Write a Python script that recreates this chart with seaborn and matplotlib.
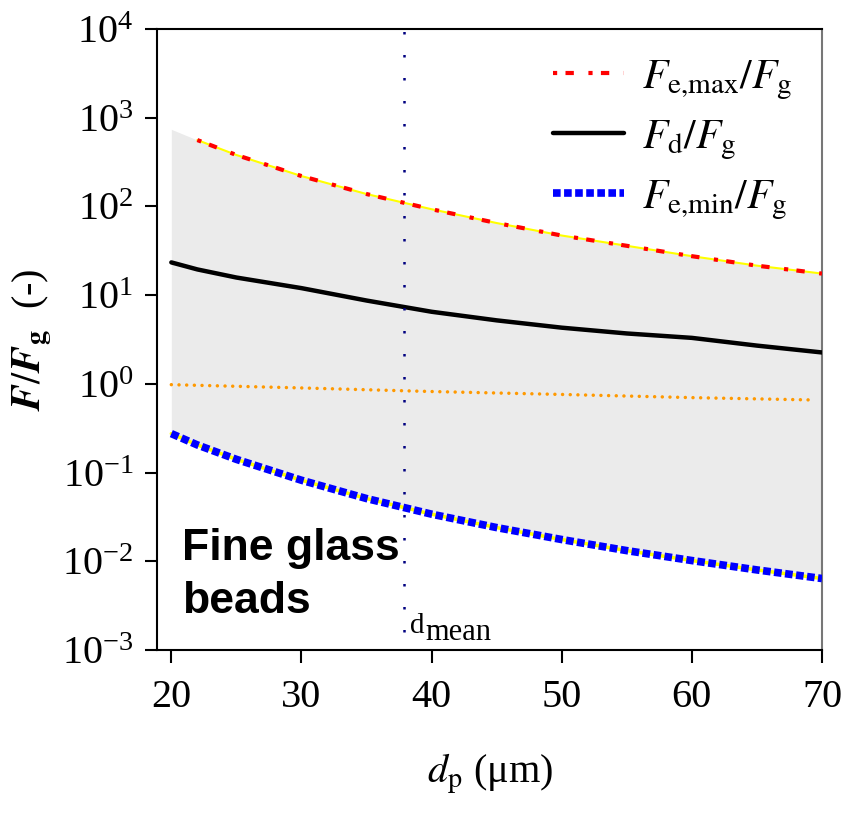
import seaborn as sns
import matplotlib.pyplot as plt
import pandas as pd

# values
d_p = [20, 22, 25, 30, 35, 40, 45, 50, 55, 60, 65, 70]
fe_max = [740, 560, 380, 220, 138, 93, 65, 47, 36, 27.5, 21.5, 17.5]
fd = [23.4, 19.5, 15.8, 12.0, 8.7, 6.5, 5.2, 4.3, 3.7, 3.3, 2.7, 2.26]
fe_min = [0.275, 0.205, 0.141, 0.082, 0.051, 0.034, 0.024, 0.0176, 0.0132, 0.0102, 0.0080, 0.0064]
d_cohesion = [20, 30, 40, 50, 60, 69]
f_cohesion = [0.98, 0.90, 0.82, 0.76, 0.70, 0.66]
d_mean = 37.9

x_ticks = [20, 30, 40, 50, 60, 70]
y_ticks = [1e-3, 1e-2, 1e-1, 1e0, 1e1, 1e2, 1e3, 1e4]

df = pd.DataFrame({"d": d_p, "fe_max": fe_max, "fd": fd, "fe_min": fe_min})
df_red = df[df["d"] >= 22]
df_c = pd.DataFrame({"d": d_cohesion, "f": f_cohesion})

sns.set_style("ticks")
plt.rcParams['font.family'] = ['Liberation Serif', 'DejaVu Serif']
plt.rcParams['mathtext.fontset'] = 'stix'
plt.rcParams['axes.unicode_minus'] = False
for k in ['text.color', 'axes.labelcolor', 'xtick.color', 'ytick.color']:
    plt.rcParams[k] = 'black'

fig = plt.figure(figsize=(8.41, 8.19), dpi=100)
ax = fig.add_axes([0.1867, 0.2063, 0.7907, 0.7583])

ax.fill_between(df["d"], df["fe_min"], df["fe_max"], color="#ebebeb", lw=0, zorder=1)

# yellow under-lines
sns.lineplot(data=df_red, x="d", y="fe_max", ax=ax, color="#ffff00", lw=1.5, zorder=2)
sns.lineplot(data=df, x="d", y="fe_min", ax=ax, color="#ffff00", lw=2.5, zorder=2)

sns.lineplot(data=df_red, x="d", y="fe_max", ax=ax, color="red", lw=3,
             label=r"$\mathit{F}_{\mathrm{e{,}max}}/\mathit{F}_{\mathrm{g}}$", zorder=3)
ax.get_lines()[-1].set_dashes([1, 2, 2, 3.5])
sns.lineplot(data=df, x="d", y="fd", ax=ax, color="black", lw=3.2,
             label=r"$\mathit{F}_{\mathrm{d}}/\mathit{F}_{\mathrm{g}}$", zorder=3)
sns.lineplot(data=df, x="d", y="fe_min", ax=ax, color="#0000ff", lw=5.5,
             label=r"$\mathit{F}_{\mathrm{e{,}min}}/\mathit{F}_{\mathrm{g}}$", zorder=3)
ax.get_lines()[-1].set_dashes([1, 0.45])
ax.get_lines()[-1].set_dash_capstyle("butt")

sns.lineplot(data=df_c, x="d", y="f", ax=ax, color="#ff9900", lw=2.5, zorder=3)
ax.get_lines()[-1].set_dashes([0.01, 2.2])
ax.get_lines()[-1].set_dash_capstyle("round")

ax.vlines(d_mean, 1.6e-3, 1e4, colors="#000080", lw=1.8, linestyles=(0, (1, 8.2)), zorder=4)
ax.text(d_mean + 0.45, 1.56e-3, "d", fontsize=21, ha="left", va="baseline")
ax.annotate("mean", xy=(d_mean + 0.45, 1.30e-3), xytext=(11, 0), textcoords="offset points",
            fontsize=22, ha="left", va="baseline")

ax.text(0.037, 0.196, "Fine glass\nbeads", transform=ax.transAxes, fontsize=32,
        fontweight="bold", family=["Liberation Sans", "DejaVu Sans"],
        ha="left", va="top", linespacing=1.35)

ax.set_yscale("log")
ax.set_xlim(18.9, 70)
ax.set_ylim(1e-3, 1e4)
ax.set_xticks(x_ticks)
ax.set_yticks(y_ticks)
ax.minorticks_off()
ax.tick_params(axis="both", labelsize=29, length=9, width=1.5, direction="out", color="black")
ax.tick_params(axis="y", pad=8)
ax.tick_params(axis="x", pad=12)
for s in ax.spines.values():
    s.set_linewidth(1.5)
    s.set_color("black")
ax.spines["right"].set_color("#777777")

ax.set_xlabel(r"$\mathit{d}_{\mathrm{p}}$ (μm)", fontsize=29, labelpad=26)
ax.set_ylabel(r"$\mathbfit{F}/\mathbfit{F}_{\mathbf{g}}$  (-)", fontsize=29, labelpad=6)

leg = ax.legend(loc="upper right", bbox_to_anchor=(1.0, 1.0), frameon=False, fontsize=30,
                handlelength=1.7, labelspacing=0.4, borderpad=0.2, handletextpad=0.45)

plt.savefig("out.png", dpi=100)
